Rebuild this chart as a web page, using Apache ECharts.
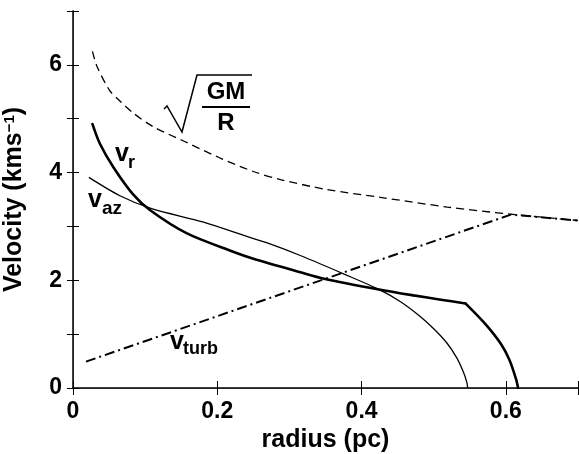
<!DOCTYPE html>
<html>
<head>
<meta charset="utf-8">
<script src="https://cdn.jsdelivr.net/npm/echarts@6/dist/echarts.min.js"></script>
<style>
html, body { margin: 0; padding: 0; background: #fff; }
#chart { width: 579px; height: 454px; }
</style>
</head>
<body>
<div id="chart"></div>
<script>
// values (radius in pc, velocity in km/s)
const radiusGM = [0.027, 0.033, 0.051, 0.065, 0.083, 0.1115, 0.151, 0.204, 0.25, 0.2875, 0.35, 0.426, 0.519, 0.605, 0.70]
const velGM = [6.25, 5.98, 5.52, 5.33, 5.11, 4.85, 4.60, 4.27, 4.02, 3.87, 3.69, 3.54, 3.36, 3.23, 3.11]

const radiusVr = [0.027, 0.0375, 0.056, 0.083, 0.107, 0.158, 0.222, 0.25, 0.315, 0.348, 0.424, 0.472, 0.51, 0.544, 0.572, 0.593, 0.605, 0.614, 0.617]
const velVr = [4.90, 4.53, 4.10, 3.60, 3.30, 2.87, 2.53, 2.40, 2.15, 2.03, 1.83, 1.72, 1.64, 1.57, 1.18, 0.82, 0.52, 0.17, 0.0]
const vrKink = 0.544 // v_r has a sharp corner here

const radiusVaz = [0.022, 0.065, 0.109, 0.181, 0.246, 0.274, 0.315, 0.375, 0.424, 0.454, 0.48, 0.50, 0.518, 0.532, 0.541, 0.546, 0.547]
const velVaz = [3.91, 3.57, 3.33, 3.08, 2.79, 2.67, 2.46, 2.12, 1.83, 1.60, 1.34, 1.10, 0.84, 0.56, 0.30, 0.10, 0.0]

const radiusTurb = [0.018, 0.607, 0.70]
const velTurb = [0.49, 3.22, 3.11]

const xTicks = [0, 0.2, 0.4, 0.6]
const yTicks = [0, 2, 4, 6]

const font = 'Liberation Sans'
const pairs = (xs, ys) => xs.map((x, i) => [x, ys[i]])

const chart = echarts.init(document.getElementById('chart'))

const xLabel = (v) => {
  const hit = xTicks.find((t) => Math.abs(t - v) < 1e-6)
  return hit === undefined ? '' : String(hit)
}
const yLabel = (v) => (yTicks.indexOf(Math.round(v)) >= 0 && Math.abs(v - Math.round(v)) < 1e-6 ? String(Math.round(v)) : '')

const vrAll = pairs(radiusVr, velVr)
const k = radiusVr.indexOf(vrKink)
const vrInner = vrAll.slice(0, k + 1)
const vrOuter = vrAll.slice(k)

const baseX = {
  type: 'value',
  min: 0,
  max: 0.7,
  interval: 0.2,
  splitLine: { show: false },
  axisTick: { inside: true, length: 7, lineStyle: { color: '#000', width: 1 } },
}
const baseY = {
  type: 'value',
  min: 0,
  max: 7,
  interval: 1,
  splitLine: { show: false },
  axisTick: { inside: true, length: 6, lineStyle: { color: '#000', width: 1 } },
}

const option = {
  animation: false,
  backgroundColor: '#fff',
  grid: { left: 73, right: 1, top: 11, bottom: 66, containLabel: false, outerBoundsMode: 'none' },
  xAxis: [
    {
      ...baseX,
      position: 'bottom',
      axisLine: { lineStyle: { color: '#000', width: 1.5 } },
      axisLabel: { formatter: xLabel, color: '#000', fontFamily: font, fontWeight: 'bold', fontSize: 23, margin: 12 },
      name: 'radius (pc)',
      nameLocation: 'middle',
      nameGap: 40,
      nameTextStyle: { color: '#000', fontFamily: font, fontWeight: 'bold', fontSize: 25 },
    },
    {
      ...baseX,
      position: 'top',
      axisLine: { lineStyle: { color: '#222', width: 1 } },
      axisLabel: { show: false },
    },
  ],
  yAxis: [
    {
      ...baseY,
      position: 'left',
      axisLine: { lineStyle: { color: '#000', width: 1.5 } },
      axisLabel: { formatter: yLabel, color: '#000', fontFamily: font, fontWeight: 'bold', fontSize: 23, margin: 11 },
      name: '{a|Velocity (kms}{b|−1}{a|)}',
      nameLocation: 'middle',
      nameGap: 46,
      nameTextStyle: {
        color: '#000',
        rich: {
          a: { fontFamily: font, fontWeight: 'bold', fontSize: 25, color: '#000' },
          b: { fontFamily: font, fontWeight: 'bold', fontSize: 15, color: '#000', verticalAlign: 'top' },
        },
      },
    },
    {
      ...baseY,
      position: 'right',
      axisLine: { lineStyle: { color: '#222', width: 1 } },
      axisLabel: { show: false },
    },
  ],
  series: [
    {
      name: 'sqrt(GM/R)',
      type: 'line',
      data: pairs(radiusGM, velGM),
      smooth: 0.3,
      showSymbol: false,
      lineStyle: { color: '#000', width: 1.3, type: [8, 5] },
      silent: true,
    },
    {
      name: 'v_r',
      type: 'line',
      data: vrInner,
      smooth: 0.3,
      showSymbol: false,
      lineStyle: { color: '#000', width: 2.6, cap: 'round' },
      silent: true,
    },
    {
      name: 'v_r',
      type: 'line',
      data: vrOuter,
      smooth: 0.3,
      showSymbol: false,
      lineStyle: { color: '#000', width: 2.6, cap: 'round' },
      silent: true,
    },
    {
      name: 'v_az',
      type: 'line',
      data: pairs(radiusVaz, velVaz),
      smooth: 0.3,
      showSymbol: false,
      lineStyle: { color: '#000', width: 1.3 },
      silent: true,
    },
    {
      name: 'v_turb',
      type: 'line',
      data: pairs(radiusTurb, velTurb),
      showSymbol: false,
      lineStyle: { color: '#000', width: 2, type: [10, 4, 2, 4] },
      silent: true,
    },
  ],
  graphic: [
    // radical sign and fraction for sqrt(GM/R)
    {
      type: 'polyline',
      shape: { points: [[164, 109], [167, 106], [182, 132], [197, 75], [252, 75]] },
      style: { stroke: '#000', lineWidth: 1.5, fill: null },
    },
    {
      type: 'line',
      shape: { x1: 202, y1: 107, x2: 250, y2: 107 },
      style: { stroke: '#000', lineWidth: 2 },
    },
    { type: 'text', style: { text: 'GM', x: 226, y: 92, align: 'center', verticalAlign: 'middle', font: 'bold 24px "Liberation Sans"', fill: '#000' } },
    { type: 'text', style: { text: 'R', x: 226, y: 123, align: 'center', verticalAlign: 'middle', font: 'bold 24px "Liberation Sans"', fill: '#000' } },
    // curve labels
    { type: 'text', style: { text: 'v', x: 115, y: 154, verticalAlign: 'middle', font: 'bold 25px "Liberation Sans"', fill: '#000' } },
    { type: 'text', style: { text: 'r', x: 128, y: 163, verticalAlign: 'middle', font: 'bold 18px "Liberation Sans"', fill: '#000' } },
    { type: 'text', style: { text: 'v', x: 88, y: 200, verticalAlign: 'middle', font: 'bold 25px "Liberation Sans"', fill: '#000' } },
    { type: 'text', style: { text: 'az', x: 102, y: 209, verticalAlign: 'middle', font: 'bold 19px "Liberation Sans"', fill: '#000' } },
    { type: 'text', style: { text: 'v', x: 170, y: 342, verticalAlign: 'middle', font: 'bold 25px "Liberation Sans"', fill: '#000' } },
    { type: 'text', style: { text: 'turb', x: 183, y: 349, verticalAlign: 'middle', font: 'bold 18px "Liberation Sans"', fill: '#000' } },
  ],
}

chart.setOption(option)
</script>
</body>
</html>
